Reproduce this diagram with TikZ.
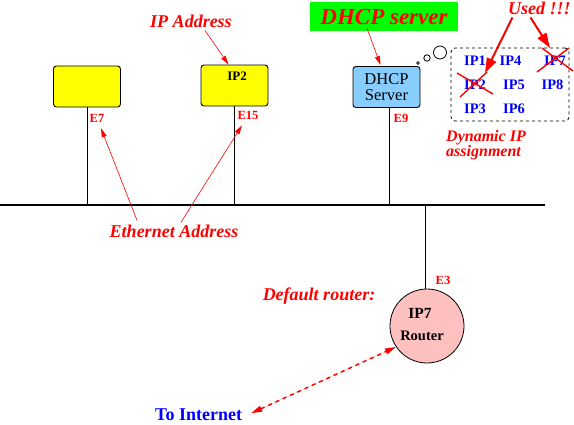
\documentclass[tikz,border=0pt]{standalone}
\usepackage{fontspec}
\setmainfont{Liberation Serif}
\usetikzlibrary{arrows.meta,positioning,calc}
\definecolor{HostYellow}{HTML}{FFFF00}
\definecolor{ServerBlue}{HTML}{87CEFF}
\definecolor{RouterPink}{HTML}{FFC0C0}
\definecolor{TagGreen}{HTML}{00FF00}
\definecolor{NoteRed}{HTML}{FF0000}
\definecolor{PoolBlue}{HTML}{0000FF}
\tikzset{host/.style={draw,line width=.9pt,rounded corners=3pt,minimum width=67pt,minimum height=41pt,inner sep=0pt},note/.style={font=\fontsize{18}{19}\selectfont\bfseries\itshape,text=NoteRed,inner sep=0pt},mac/.style={font=\fontsize{12.5}{13}\selectfont\bfseries,text=NoteRed,inner sep=0pt},addr/.style={font=\fontsize{14.5}{15}\selectfont\bfseries,text=PoolBlue,inner sep=0pt},pointer/.style={-{Triangle[length=9pt,width=5pt]},draw=NoteRed,line width=.6pt},heavy/.style={-{Triangle[length=15pt,width=10pt]},draw=NoteRed,line width=2pt},cross/.style={draw=NoteRed,line width=1.4pt},wire/.style={line width=.8pt}}
\begin{document}
\begin{tikzpicture}[x=1pt,y=-1pt]
\useasboundingbox (0,0) rectangle (574,424);
% the segment and its stations
\coordinate (busL) at (0,205);\coordinate (busR) at (545,205);
\draw[line width=2pt] (busL)--(busR);
\node[host,fill=HostYellow] (host1) at (87,86.5) {};
\node[host,fill=HostYellow] (host2) at (234.5,85.5) {};
\node[font=\fontsize{13}{13}\selectfont\bfseries,inner sep=0pt] (ip2host) at (237,76) {IP2};
\node[host,fill=ServerBlue,align=center,font=\fontsize{16.5}{16}\selectfont] (dhcp) at (386.5,87) {DHCP\\Server};
\node[circle,draw,fill=RouterPink,line width=.8pt,minimum size=74pt,inner sep=0pt] (router) at (427,326) {};
\node[font=\fontsize{15.5}{16}\selectfont\bfseries,inner sep=0pt] (ip7router) at (420,313) {IP7};
\node[font=\fontsize{14.5}{15}\selectfont\bfseries,inner sep=0pt] (routertext) at (422,336) {Router};
\draw[wire] (host1.south)--(host1.south |- busL);
\draw[wire] (host2.south)--(host2.south |- busL);
\draw[wire] ([xshift=2.5pt]dhcp.south)--([xshift=2.5pt]dhcp.south |- busL);
\draw[wire] ([xshift=-2pt]router.north)--([xshift=-2pt]router.north |- busL);
\node[mac] (e7) at (97,118) {E7};
\node[mac] (e15) at (248,115) {E15};
\node[mac] (e9) at (401,118) {E9};
\node[mac] (e3) at (443,280) {E3};
% address pool
\node[draw,dashed,line width=.8pt,rounded corners=4pt,minimum width=118pt,minimum height=73pt] (pool) at (510,84.5) {};
\foreach \n/\x/\y in {1/475/61,4/510.5/61,7/555/61,2/475/85,5/514/85,8/552.5/85,3/475/109,6/514/109}
  \node[addr] (ip\n) at (\x,\y) {IP\n};
\draw[cross] ($(ip2)+(-18,-12)$)--($(ip2)+(18,9)$);\draw[cross] ($(ip2)+(-15,12)$)--($(ip2)+(12,-13)$);
\draw[cross] ($(ip7)+(-18,11)$)--($(ip7)+(14,-13)$);\draw[cross] ($(ip7)+(-13,-13)$)--($(ip7)+(18,10)$);
\draw[line width=.8pt] (418,63) circle (1.4) (427,58) circle (3.2) (440,52.5) circle (6.5);
% notes
\node[note,anchor=base] (ipnote) at (191,27) {IP Address};
\node[note,fill=TagGreen,font=\fontsize{23}{24}\selectfont\bfseries\itshape,minimum width=148pt,minimum height=29pt] (dhcpnote) at (384,16.5) {DHCP server};
\node[note,anchor=base west] (usednote) at (508,14) {Used !!!};
\node[note,align=left,font=\fontsize{16}{15}\selectfont\bfseries\itshape] (poolnote) at (486,145) {Dynamic IP\\assignment};
\node[note,anchor=base] (ethnote) at (174,237) {Ethernet Address};
\node[note,anchor=base] (routernote) at (319,300) {Default router:};
\node[font=\fontsize{18}{19}\selectfont\bfseries,text=PoolBlue,inner sep=0pt,anchor=base west] (tointernet) at (155,420) {To Internet};
\draw[pointer] ($(ipnote.south)+(14,3)$)--($(host2.north)+(-6,0)$);
\draw[pointer] ($(dhcpnote.south)+(-17,-3)$)--($(dhcp.north)+(-6,-1)$);
\draw[pointer] ($(ethnote.north)+(-37,-4)$)--($(e7.south)+(4,6)$);
\draw[pointer] ($(ethnote.north)+(7,-2)$)--($(e15.south)+(-6,6)$);
\draw[heavy] ($(usednote.south)+(-27,3)$)--($(ip2)+(10,-12)$);
\draw[heavy] ($(usednote.south)+(-9,3)$)--($(ip7)+(-5,-13)$);
\draw[{Triangle[length=11pt,width=6pt]}-{Triangle[length=11pt,width=6pt]},draw=NoteRed,fill=NoteRed,line width=1.5pt,dash pattern=on 4pt off 4pt] ($(tointernet.east)+(9,-1)$)--(router.214);
\end{tikzpicture}
\end{document}
